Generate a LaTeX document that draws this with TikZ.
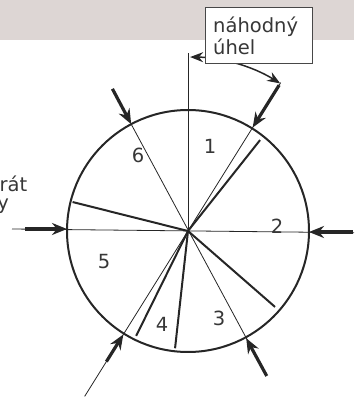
\documentclass[tikz,border=0pt]{standalone}
\usepackage{fontspec}
\setmainfont{DejaVu Sans}
\usetikzlibrary{arrows.meta,calc}
\definecolor{band}{RGB}{221,214,212}
\definecolor{ink}{RGB}{38,38,38}
\definecolor{txt}{RGB}{55,55,55}
\begin{document}
\begin{tikzpicture}[x=1pt,y=1pt,
  thinln/.style={draw=ink,line width=0.8pt},
  thickln/.style={draw=ink,line width=2pt},
  bigarrow/.style={draw=ink,line width=3.2pt,-{Stealth[length=15pt,width=12pt]}},
  lbl/.style={font=\fontsize{19.5}{23}\selectfont,text=txt,inner sep=0pt}]
\useasboundingbox (0,0) rectangle (358,397);
% grey band
\fill[band] (0,357) rectangle (354,397);
\coordinate (C) at (188,166);
% thin construction lines
\draw[thinln] (C) -- ++(90:178) coordinate (V);
\coordinate (HL) at (12,168);
\coordinate (HR) at (354,164.3);
\draw[thinln] (HL) -- (HR);
\draw[thinln] ($(C)+(118:121)$) -- ($(C)+(-61.5:164)$);
\draw[thinln] ($(C)+(58:175)$) coordinate (AE) -- ($(C)+(-122:195)$);
% circle
\draw[ink,line width=2pt] (C) circle[radius=121];
% thick segment boundaries
\draw[thickln] (C) -- ++(51.6:116);
\draw[thickln] (C) -- ++(-41.1:115.5);
\draw[thickln] (C) -- ++(-96.3:118);
\draw[thickln] (C) -- ++(-116.3:117);
\draw[thickln] (C) -- ++(165.9:119);
% arrows onto the circle
\draw[bigarrow] ($(C)+(118:161)$) -- ($(C)+(118:121)$);
\draw[bigarrow] ($(C)+(58:172)$) -- ($(C)+(58:122)$);
\draw[bigarrow] (353,165) -- (309,165);
\draw[bigarrow] (25,168) -- (67,168);
\draw[bigarrow] ($(C)+(-61.5:165)$) -- ($(C)+(-61.5:122)$);
\draw[bigarrow] ($(C)+(-122:154)$) -- ($(C)+(-122:122)$);
% random angle arc
\draw[ink,line width=1.5pt,{Stealth[length=13pt,width=10pt]}-{Stealth[length=13pt,width=10pt]}]
  ($(C)+(89.3:174)$) arc[start angle=89.3,end angle=58,radius=174];
% box
\draw[ink!85,line width=0.9pt,fill=white] (205,334) rectangle (312,390);
\node[lbl,anchor=base west] (t1) at (213,364) {náhodný};
\node[lbl,anchor=base west] (t2) at (213,342) {úhel};
% cut-off left text
\node[lbl,anchor=base east] (l1) at (27.5,205) {rát};
\node[lbl,anchor=base east] (l2) at (9,187) {y};
% segment numbers
\node[lbl] (n1) at (210,251) {1};
\node[lbl] (n2) at (277,171) {2};
\node[lbl] (n3) at (219,79) {3};
\node[lbl] (n4) at (162,73) {4};
\node[lbl] (n5) at (104,135.5) {5};
\node[lbl] (n6) at (138,241.5) {6};
\end{tikzpicture}
\end{document}
